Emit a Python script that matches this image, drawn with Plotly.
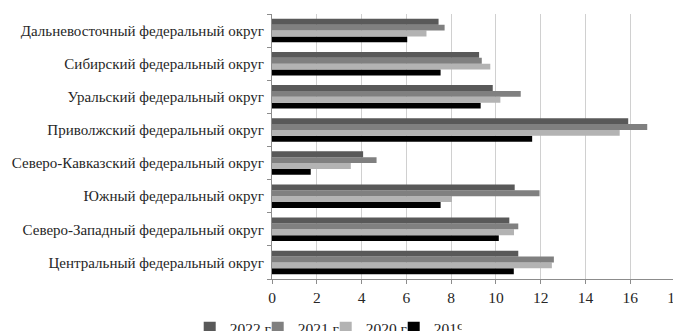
import plotly.graph_objects as go

districts = [
    "Центральный федеральный округ",
    "Северо-Западный федеральный округ",
    "Южный федеральный округ",
    "Северо-Кавказский федеральный округ",
    "Приволжский федеральный округ",
    "Уральский федеральный округ",
    "Сибирский федеральный округ",
    "Дальневосточный федеральный округ",
]
v2019 = [10.8, 10.13, 7.53, 1.73, 11.62, 9.32, 7.53, 6.04]
v2020 = [12.5, 10.81, 8.04, 3.52, 15.53, 10.2, 9.75, 6.9]
v2021 = [12.59, 11.0, 11.95, 4.67, 16.76, 11.11, 9.37, 7.71]
v2022 = [11.0, 10.6, 10.84, 4.07, 15.91, 9.86, 9.25, 7.44]
x_ticks = [0, 2, 4, 6, 8, 10, 12, 14, 16, 18]

series = [
    ("2019 г", v2019, "#000000"),
    ("2020 г", v2020, "#b3b3b3"),
    ("2021 г", v2021, "#808080"),
    ("2022 г", v2022, "#595959"),
]

fig = go.Figure()
for name, vals, col in series:
    fig.add_trace(go.Bar(
        y=districts, x=vals, name=name, orientation="h",
        marker=dict(color=col, line=dict(width=0)),
    ))

font_family = "Liberation Serif, Times New Roman, DejaVu Serif, serif"
fig.update_layout(
    template="none",
    width=673, height=323,
    margin=dict(l=264, r=6, t=6, b=52, autoexpand=False),
    paper_bgcolor="white", plot_bgcolor="white",
    barmode="group", bargap=0.29, bargroupgap=0.0,
    font=dict(family=font_family, size=15.5, color="#262626"),
    showlegend=True,
    legend=dict(
        orientation="h", traceorder="reversed",
        xref="container", yref="container",
        x=0.27, xanchor="left", y=0.009, yanchor="middle",
        font=dict(family=font_family, size=15.5, color="#262626"),
        itemwidth=30, tracegroupgap=0, entrywidth=23,
        bgcolor="rgba(0,0,0,0)",
    ),
    xaxis=dict(
        range=[0, 18], tickvals=x_ticks, ticktext=[str(t) for t in x_ticks],
        showgrid=True, gridcolor="#d0d0d0", gridwidth=1,
        showline=True, linecolor="#8c8c8c", linewidth=1,
        ticks="outside", ticklen=4, tickcolor="#8c8c8c",
        zeroline=False, ticklabeloverflow="allow", automargin=False,
        tickfont=dict(family=font_family, size=15.5),
    ),
    yaxis=dict(
        showline=True, linecolor="#8c8c8c", linewidth=1,
        ticks="outside", ticklen=4, tickcolor="#8c8c8c",
        tickson="boundaries", showgrid=False, automargin=False,
        ticklabelstandoff=4, tickfont=dict(family=font_family, size=15),
    ),
)

fig.write_html("out.html")
